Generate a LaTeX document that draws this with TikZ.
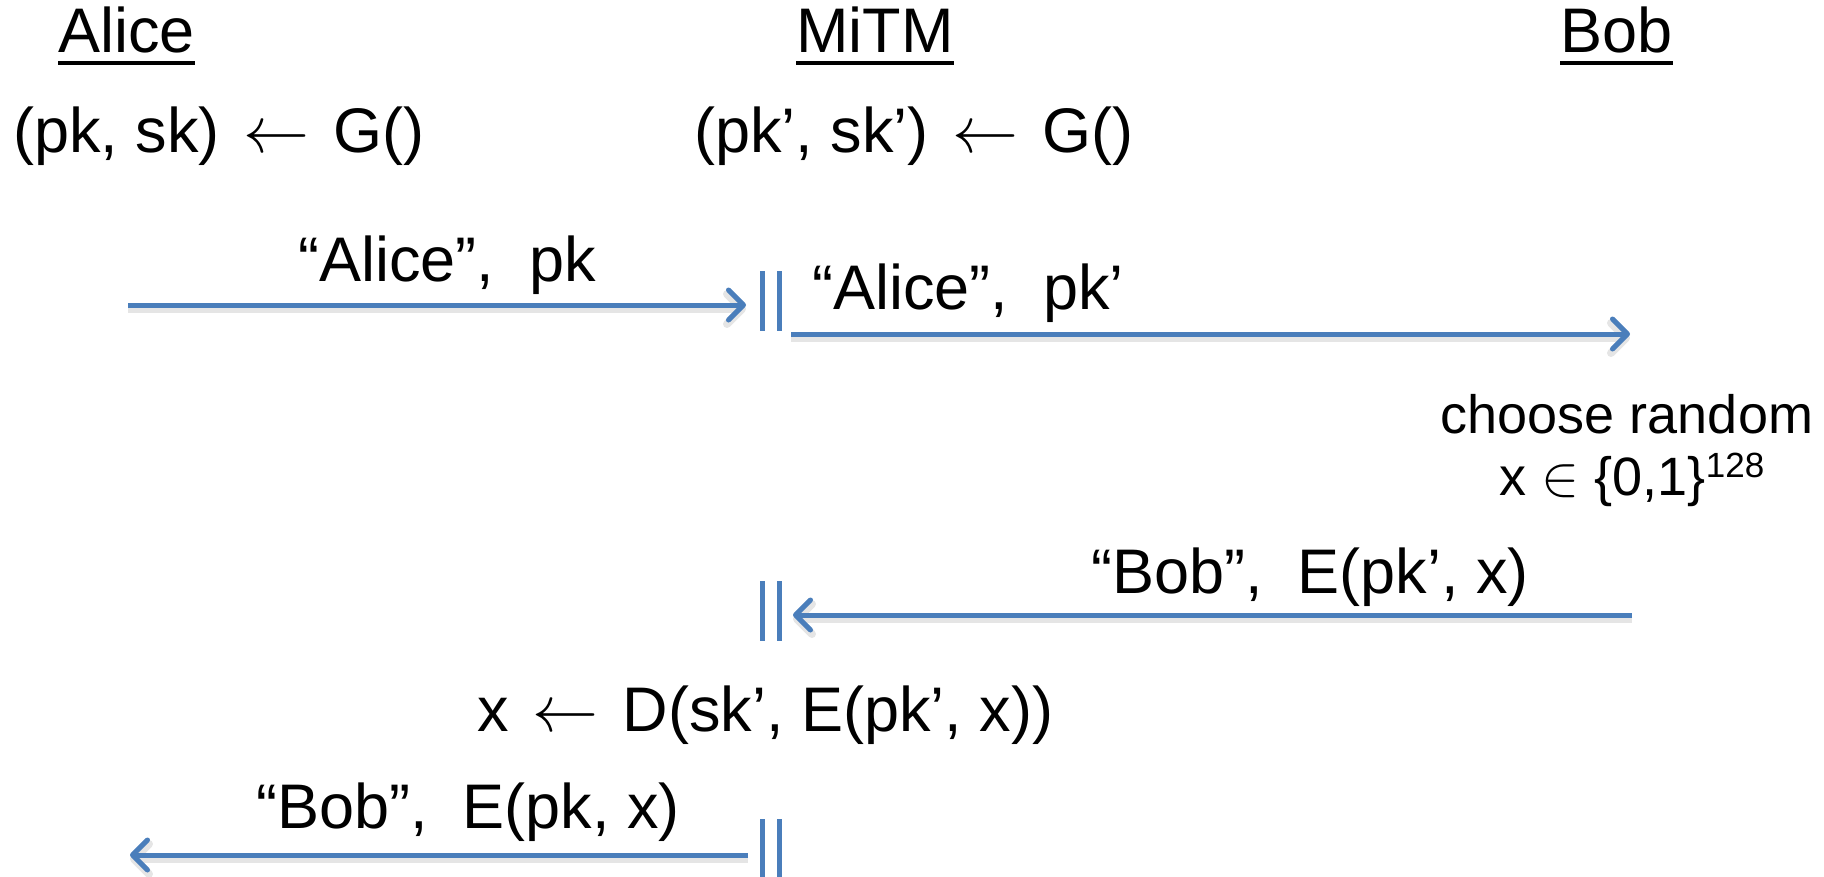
\documentclass[tikz,border=0pt]{standalone}
\usepackage{graphicx}
\usepackage{fontspec}
\setmainfont{Liberation Sans}
\usetikzlibrary{arrows.meta}
\definecolor{msgblue}{HTML}{4A7EBB}
\tikzset{
  txt/.style={inner sep=0pt, anchor=base west, font=\fontsize{63}{70}\selectfont},
  small/.style={inner sep=0pt, anchor=base, font=\fontsize{54}{60}\selectfont},
  tip/.tip={Straight Barb[length=15pt, width=30pt, line cap=round, line join=round]},
  msg/.style={draw=msgblue, line width=5pt, -tip,
    preaction={draw=black, opacity=0.10, line width=8pt, transform canvas={yshift=-4pt}}},
  bar/.style={draw=msgblue, line width=5pt},
  uline/.style={line width=4.5pt}
}
\newcommand{\lar}{\hspace{24pt}\scalebox{6.6}{\fontsize{10}{12}\selectfont$\leftarrow$}\hspace{24pt}}
\newcommand{\elem}{\scalebox{5.7}{\fontsize{10}{12}\selectfont$\in$}}
\begin{document}
\begin{tikzpicture}[x=1pt, y=-1pt]
  \useasboundingbox (0,0) rectangle (1824,876);

  % party names
  \node[txt] (alice) at (58,52) {Alice};
  \node[txt] (mitm) at (796,52) {MiTM};
  \node[txt] (bob) at (1560,52) {Bob};
  \foreach \p in {alice, mitm, bob}
    \draw[uline] ([yshift=-11pt]\p.base west) -- ([yshift=-11pt]\p.base east);

  % key generation
  \node[txt] (keyA) at (13,152) {(pk, sk)\lar G()};
  \node[txt] (keyM) at (694,152) {(pk’, sk’)\lar G()};

  % message 1: Alice to MiTM
  \coordinate (a1s) at (128,305);
  \coordinate (a1e) at (746,305);
  \draw[msg] (a1s) -- (a1e);
  \node[txt] (l1) at (298,281) {“Alice”,\ \ pk};

  % message 1 forwarded: MiTM to Bob
  \coordinate (a2s) at (791,334);
  \coordinate (a2e) at (1630,334);
  \draw[msg] (a2s) -- (a2e);
  \node[txt] (l2) at (812,309) {“Alice”,\ \ pk’};

  % Bob's choice
  \node[small] (choose) at (1627,433) {choose random};
  \node[small] (xin) at (1632,495) {x \elem{} \{0,1\}\raisebox{18pt}{\fontsize{35}{38}\selectfont 128}};

  % message 2: Bob to MiTM
  \coordinate (a3s) at (1632,615);
  \coordinate (a3e) at (793,615);
  \draw[msg] (a3s) -- (a3e);
  \node[txt] (l3) at (1091,593) {“Bob”,\ \ E(pk’, x)};

  % MiTM decrypts
  \node[txt] (dec) at (477,731) {x\lar D(sk’, E(pk’, x))};

  % message 2 forwarded: MiTM to Alice
  \coordinate (a4s) at (748,855);
  \coordinate (a4e) at (130,855);
  \draw[msg] (a4s) -- (a4e);
  \node[txt] (l4) at (256,828) {“Bob”,\ \ E(pk, x)};

  % interception marks
  \foreach \y/\h in {271/60, 581/60, 819/80}{
    \draw[bar] (762.5,\y) -- ++(0,\h);
    \draw[bar] (779.5,\y) -- ++(0,\h);
  }
\end{tikzpicture}
\end{document}
